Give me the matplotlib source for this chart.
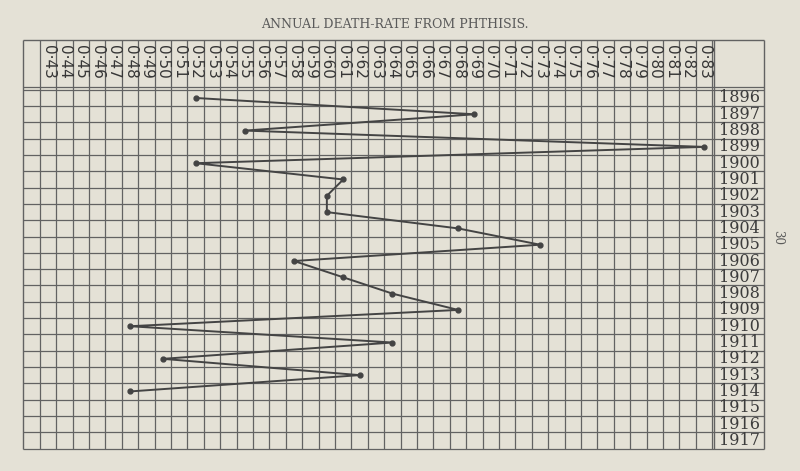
import matplotlib.pyplot as plt
import numpy as np

# death-rate scale along the top (0.43 ... 0.83), one column each
rate_ticks = [round(0.43 + 0.01 * k, 2) for k in range(41)]
tick_labels = ["0·%02d" % round(r * 100) for r in rate_ticks]

# years down the right-hand side
row_years = list(range(1896, 1918))

# plotted series
years = [1896, 1897, 1898, 1899, 1900, 1901, 1902, 1903, 1904, 1905,
         1906, 1907, 1908, 1909, 1910, 1911, 1912, 1913, 1914]
rates = [0.52, 0.69, 0.55, 0.83, 0.52, 0.61, 0.60, 0.60, 0.68, 0.73,
         0.58, 0.61, 0.64, 0.68, 0.48, 0.64, 0.50, 0.62, 0.48]

paper = "#e4e1d6"
ink = "#626262"

fig = plt.figure(figsize=(8, 4.71), dpi=100, facecolor=paper)
ax = fig.add_axes([0, 0, 1, 1])
ax.set_facecolor(paper)
ax.axis("off")

# one column = 0.01, one row = 1 year
ax.set_xlim(0.4007, 0.8885)
ax.set_ylim(1918.88, 1889.99)

left, right = 0.4148, 0.8666
col_edges = [r - 0.005 for r in rate_ticks] + [rate_ticks[-1] + 0.005]
year_col = (col_edges[-1] + right) / 2 + 0.0007
top, hdr = 1892.46, row_years[0] - 0.5
bottom = row_years[-1] + 0.5

# grid
ax.vlines(col_edges, top, bottom, color=ink, lw=0.9)
ax.vlines([left, col_edges[-1] + 0.0013, right], top, bottom, color=ink, lw=1.0)
ax.hlines(top, left, right, color=ink, lw=1.0)
ax.hlines(hdr - 0.15, left, right, color=ink, lw=0.9)
ax.hlines([y - 0.5 for y in row_years] + [bottom], left, right, color=ink, lw=0.9)

# header labels
for r, lab in zip(rate_ticks, tick_labels):
    ax.text(r, 1893.8, lab, rotation=-90, ha="center", va="center",
            fontsize=11, color="#363636", family="DejaVu Sans")

for y in row_years:
    ax.text(year_col, y, str(y), ha="center", va="center",
            fontsize=11.5, color="#3c3c3c", family="DejaVu Serif")

# the curve
ax.plot(rates, years, color="#444444", lw=1.4, marker="o", ms=3.5)

fig.text(0.494, 0.949, "ANNUAL DEATH-RATE FROM PHTHISIS.", ha="center",
         va="center", fontsize=9, color="#5a5a5a", family="DejaVu Serif")
fig.text(0.972, 0.495, "30", rotation=-90, ha="center", va="center",
         fontsize=8.5, color="#5a5a5a", family="DejaVu Serif")

fig.savefig("out.png", dpi=100, facecolor=paper)
